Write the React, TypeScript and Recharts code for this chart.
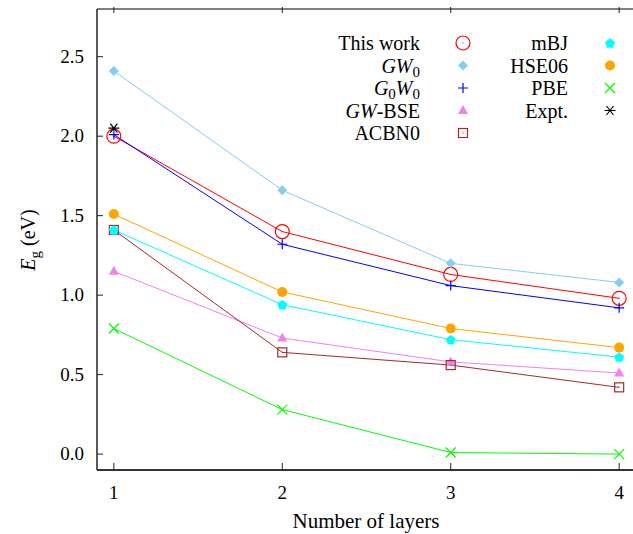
import { LineChart, Line, XAxis, YAxis } from "recharts";

const layers = [1, 2, 3, 4];
const thisWork = [2.0, 1.4, 1.13, 0.98];
const gw0 = [2.41, 1.66, 1.2, 1.08];
const g0w0 = [2.01, 1.32, 1.06, 0.92];
const gwBse = [1.15, 0.73, 0.58, 0.51];
const acbn0 = [1.41, 0.64, 0.56, 0.42];
const mbj = [1.41, 0.94, 0.72, 0.61];
const hse06 = [1.51, 1.02, 0.79, 0.67];
const pbe = [0.79, 0.28, 0.01, 0.0];
const expt = [2.05, null, null, null];

const xTicks = [1, 2, 3, 4];
const yTicks = [0, 0.5, 1, 1.5, 2, 2.5];

const data = layers.map((n, i) => ({
  n,
  thisWork: thisWork[i],
  gw0: gw0[i],
  g0w0: g0w0[i],
  gwBse: gwBse[i],
  acbn0: acbn0[i],
  mbj: mbj[i],
  hse06: hse06[i],
  pbe: pbe[i],
  expt: expt[i],
}));

type Kind =
  | "ring"
  | "diamond"
  | "plus"
  | "triangle"
  | "square"
  | "pentagon"
  | "disc"
  | "cross"
  | "star";

const Marker = ({ kind, x, y, color }: { kind: Kind; x: number; y: number; color: string }) => {
  switch (kind) {
    case "ring":
      return (
        <g>
          <circle cx={x} cy={y} r={7} fill="none" stroke={color} strokeWidth={1.2} />
          <rect x={x - 0.5} y={y - 0.5} width={1} height={1} fill={color} />
        </g>
      );
    case "diamond":
      return <path d={`M${x},${y - 5}L${x + 5},${y}L${x},${y + 5}L${x - 5},${y}Z`} fill={color} />;
    case "plus":
      return (
        <path d={`M${x - 5},${y}H${x + 5}M${x},${y - 5}V${y + 5}`} stroke={color} strokeWidth={1.2} />
      );
    case "triangle":
      return <path d={`M${x},${y - 5.5}L${x + 5},${y + 3.5}L${x - 5},${y + 3.5}Z`} fill={color} />;
    case "square":
      return (
        <g>
          <rect x={x - 4.5} y={y - 4.5} width={9} height={9} fill="none" stroke={color} strokeWidth={1.2} />
          <rect x={x - 0.5} y={y - 0.5} width={1} height={1} fill={color} />
        </g>
      );
    case "pentagon": {
      const pts = [0, 1, 2, 3, 4]
        .map((k) => {
          const a = -Math.PI / 2 + (k * 2 * Math.PI) / 5;
          return `${x + 5.2 * Math.cos(a)},${y + 0.5 + 5.2 * Math.sin(a)}`;
        })
        .join(" ");
      return <polygon points={pts} fill={color} />;
    }
    case "disc":
      return <circle cx={x} cy={y} r={5} fill={color} />;
    case "cross":
      return (
        <path
          d={`M${x - 5},${y - 5}L${x + 5},${y + 5}M${x - 5},${y + 5}L${x + 5},${y - 5}`}
          stroke={color}
          strokeWidth={1.2}
        />
      );
    case "star":
      return (
        <path
          d={`M${x - 5.5},${y}H${x + 5.5}M${x - 3.5},${y - 4.5}L${x + 3.5},${y + 4.5}M${x - 3.5},${y + 4.5}L${x + 3.5},${y - 4.5}`}
          stroke={color}
          strokeWidth={1.2}
        />
      );
  }
  return null;
};

const series: { key: string; color: string; kind: Kind; line: boolean }[] = [
  { key: "thisWork", color: "#ff0000", kind: "ring", line: true },
  { key: "gw0", color: "#87ceeb", kind: "diamond", line: true },
  { key: "g0w0", color: "#0000ff", kind: "plus", line: true },
  { key: "gwBse", color: "#ee82ee", kind: "triangle", line: true },
  { key: "acbn0", color: "#a52a2a", kind: "square", line: true },
  { key: "mbj", color: "#00ffff", kind: "pentagon", line: true },
  { key: "hse06", color: "#ffa500", kind: "disc", line: true },
  { key: "pbe", color: "#00ff00", kind: "cross", line: true },
  { key: "expt", color: "#000000", kind: "star", line: false },
];

const font = "'Liberation Serif', 'Times New Roman', serif";

const LeftTick = (p: any) => (
  <g>
    <line x1={p.x} y1={p.y} x2={p.x + 6} y2={p.y} stroke="#222" />
    <text x={p.x - 13} y={p.y + 6} textAnchor="end" fontFamily={font} fontSize={19} fill="#000">
      {p.payload.value.toFixed(1)}
    </text>
  </g>
);

const BottomTick = (p: any) => (
  <g>
    <line x1={p.x} y1={p.y} x2={p.x} y2={p.y - 7} stroke="#222" />
    <text x={p.x} y={p.y + 29} textAnchor="middle" fontFamily={font} fontSize={19} fill="#000">
      {p.payload.value}
    </text>
  </g>
);

const TopTick = (p: any) => <line x1={p.x} y1={p.y} x2={p.x} y2={p.y + 6} stroke="#222" />;
const RightTick = (p: any) => <line x1={p.x} y1={p.y} x2={p.x - 6} y2={p.y} stroke="#222" />;

const legendLeft = [
  { label: <tspan>This work</tspan>, kind: "ring" as Kind, color: "#ff0000" },
  {
    label: (
      <>
        <tspan fontStyle="italic">GW</tspan>
        <tspan dy={4} fontSize={15}>0</tspan>
      </>
    ),
    kind: "diamond" as Kind,
    color: "#87ceeb",
  },
  {
    label: (
      <>
        <tspan fontStyle="italic">G</tspan>
        <tspan dy={4} fontSize={15}>0</tspan>
        <tspan dy={-4} fontStyle="italic">W</tspan>
        <tspan dy={4} fontSize={15}>0</tspan>
      </>
    ),
    kind: "plus" as Kind,
    color: "#0000ff",
  },
  {
    label: (
      <>
        <tspan fontStyle="italic">GW</tspan>
        <tspan>-BSE</tspan>
      </>
    ),
    kind: "triangle" as Kind,
    color: "#ee82ee",
  },
  { label: <tspan>ACBN0</tspan>, kind: "square" as Kind, color: "#a52a2a" },
];

const legendRight = [
  { label: <tspan>mBJ</tspan>, kind: "pentagon" as Kind, color: "#00ffff" },
  { label: <tspan>HSE06</tspan>, kind: "disc" as Kind, color: "#ffa500" },
  { label: <tspan>PBE</tspan>, kind: "cross" as Kind, color: "#00ff00" },
  { label: <tspan>Expt.</tspan>, kind: "star" as Kind, color: "#000000" },
];

const rowY = [43, 65.5, 88, 110.5, 133];

export default function App() {
  return (
    <div
      style={{
        position: "fixed",
        left: 0,
        top: 0,
        width: 633,
        height: 534,
        overflow: "hidden",
        background: "#fff",
      }}
    >
      <LineChart width={640} height={534} data={data} margin={{ top: 0, right: 0, bottom: 0, left: 0 }}>
        <XAxis
          dataKey="n"
          type="number"
          domain={[0.9, 4.1]}
          ticks={xTicks}
          tickSize={0}
          tickMargin={0}
          height={64}
          tick={BottomTick}
          axisLine={{ stroke: "#333", strokeWidth: 2 }}
          tickLine={false}
        />
        <XAxis
          xAxisId="top"
          orientation="top"
          dataKey="n"
          type="number"
          domain={[0.9, 4.1]}
          ticks={xTicks}
          tickSize={0}
          height={9}
          tick={TopTick}
          axisLine={{ stroke: "#000", strokeWidth: 1 }}
          tickLine={false}
        />
        <YAxis
          type="number"
          domain={[-0.1, 2.8]}
          ticks={yTicks}
          tickSize={0}
          tickMargin={0}
          width={97}
          tick={LeftTick}
          axisLine={{ stroke: "#222", strokeWidth: 1.5 }}
          tickLine={false}
        />
        <YAxis
          yAxisId="right"
          orientation="right"
          type="number"
          domain={[-0.1, 2.8]}
          ticks={yTicks}
          tickSize={0}
          width={4}
          tick={RightTick}
          axisLine={{ stroke: "#000" }}
          tickLine={false}
        />
        {series.map((s) => (
          <Line
            key={s.key}
            dataKey={s.key}
            type="linear"
            stroke={s.line ? s.color : "none"}
            strokeWidth={1}
            isAnimationActive={false}
            connectNulls={false}
            dot={(p: any) =>
              p.value == null || p.cy == null ? (
                <g key={`${s.key}-${p.index}`} />
              ) : (
                <Marker key={`${s.key}-${p.index}`} kind={s.kind} x={p.cx} y={p.cy} color={s.color} />
              )
            }
            activeDot={false}
          />
        ))}
      </LineChart>
      <svg
        width={633}
        height={534}
        style={{ position: "absolute", left: 0, top: 0, pointerEvents: "none" }}
        fontFamily={font}
      >
        {legendLeft.map((it, i) => (
          <g key={`l${i}`}>
            <text x={420} y={rowY[i] + 7} textAnchor="end" fontSize={20} fill="#000">
              {it.label}
            </text>
            <Marker kind={it.kind} x={463} y={rowY[i]} color={it.color} />
          </g>
        ))}
        {legendRight.map((it, i) => (
          <g key={`r${i}`}>
            <text x={568} y={rowY[i] + 7} textAnchor="end" fontSize={20} fill="#000">
              {it.label}
            </text>
            <Marker kind={it.kind} x={610} y={rowY[i]} color={it.color} />
          </g>
        ))}
        <text x={366} y={528} textAnchor="middle" fontSize={21} fill="#000">
          Number of layers
        </text>
        <text transform="translate(35,240) rotate(-90)" textAnchor="middle" fontSize={20} fill="#000">
          <tspan fontStyle="italic">E</tspan>
          <tspan dy={5} fontSize={15}>g</tspan>
          <tspan dy={-5}> (eV)</tspan>
        </text>
      </svg>
    </div>
  );
}
